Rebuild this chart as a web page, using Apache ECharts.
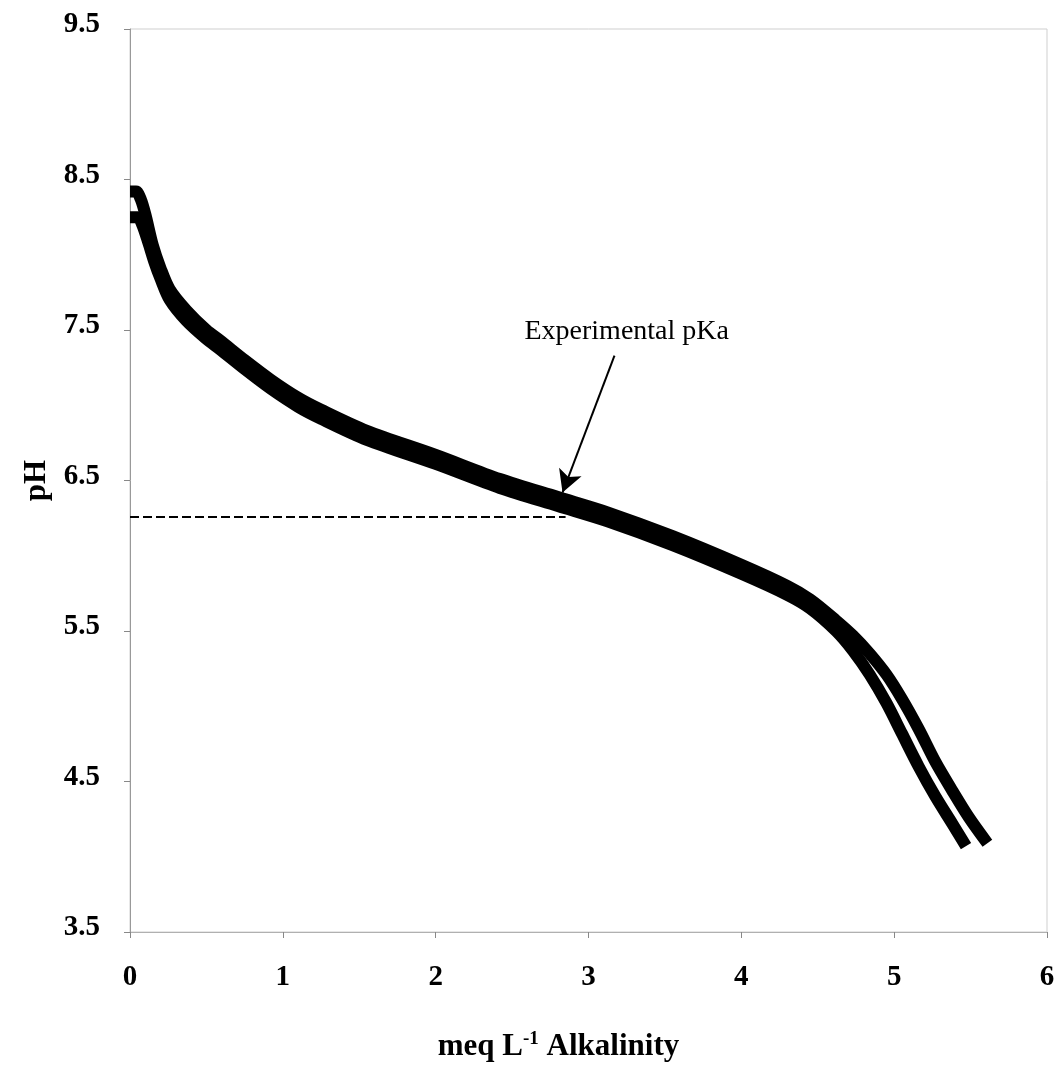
<!DOCTYPE html>
<html>
<head>
<meta charset="utf-8">
<title>Titration curve</title>
<script src="https://cdn.jsdelivr.net/npm/echarts@6/dist/echarts.min.js"></script>
<style>
  html, body { margin: 0; padding: 0; background: #fff; }
  #chart { width: 1060px; height: 1065px; }
</style>
</head>
<body>
<div id="chart"></div>
<script>
// Titration run 1: alkalinity added (meq/L) and measured pH
const runA = [
  [0.00, 8.42], [0.04, 8.42], [0.07, 8.37], [0.10, 8.27], [0.15, 8.06],
  [0.20, 7.91], [0.26, 7.77], [0.37, 7.63], [0.50, 7.50], [0.59, 7.43],
  [0.75, 7.30], [0.92, 7.17], [1.10, 7.05], [1.25, 6.97], [1.55, 6.83],
  [2.00, 6.67], [2.42, 6.51], [2.80, 6.39], [3.12, 6.29], [3.55, 6.13],
  [4.00, 5.94], [4.30, 5.80], [4.45, 5.71], [4.62, 5.57], [4.73, 5.47],
  [4.84, 5.35], [4.95, 5.21], [5.05, 5.05], [5.16, 4.85], [5.27, 4.63],
  [5.38, 4.44], [5.49, 4.26], [5.61, 4.09]
];

// Titration run 2
const runB = [
  [0.00, 8.25], [0.05, 8.25], [0.08, 8.20], [0.12, 8.08], [0.16, 7.95],
  [0.20, 7.84], [0.26, 7.70], [0.37, 7.56], [0.50, 7.44], [0.59, 7.37],
  [0.75, 7.24], [0.92, 7.11], [1.10, 6.99], [1.25, 6.91], [1.55, 6.77],
  [2.00, 6.61], [2.42, 6.45], [2.80, 6.33], [3.12, 6.23], [3.55, 6.07],
  [4.00, 5.88], [4.30, 5.74], [4.45, 5.65], [4.62, 5.50], [4.73, 5.37],
  [4.84, 5.21], [4.95, 5.02], [5.05, 4.82], [5.16, 4.60], [5.27, 4.40],
  [5.38, 4.22], [5.47, 4.07]
];

// Experimental pKa and where its reference line stops
const pKa = 6.26;
const pKaLineEnd = 2.85;

// Annotation: arrow from the label down to the curve
const arrowFrom = [3.17, 7.33];
const arrowTo = [2.83, 6.42];
const labelAt = [3.25, 7.49];
const labelText = 'Experimental pKa';

// Axis ticks
const xTicks = [0, 1, 2, 3, 4, 5, 6];
const yTicks = [3.5, 4.5, 5.5, 6.5, 7.5, 8.5, 9.5];

const serif = '"Liberation Serif", "DejaVu Serif", serif';

const chart = echarts.init(document.getElementById('chart'), null, { renderer: 'canvas' });

const curveStyle = { color: '#000', width: 12, cap: 'butt', join: 'round' };

chart.setOption({
  animation: false,
  backgroundColor: '#fff',
  grid: {
    left: 130, right: 13, top: 29, bottom: 133,
    show: true, borderColor: '#cfcfcf', borderWidth: 1,
    outerBoundsMode: 'none'
  },
  xAxis: {
    type: 'value',
    min: xTicks[0], max: xTicks[xTicks.length - 1], interval: 1,
    name: '{t|meq L}{s|-1}{t| Alkalinity}',
    nameLocation: 'middle', nameGap: 98,
    nameTextStyle: {
      padding: [0, 60, 0, 0],
      rich: {
        t: { fontFamily: serif, fontWeight: 'bold', fontSize: 31, color: '#000' },
        s: { fontFamily: serif, fontWeight: 'bold', fontSize: 19, color: '#000', verticalAlign: 'top', padding: [0, 0, 14, 0] }
      }
    },
    axisLine: { show: true, onZero: false, lineStyle: { color: '#b0b0b0', width: 1 } },
    axisTick: { show: true, length: 6, lineStyle: { color: '#888' } },
    axisLabel: {
      color: '#000', fontFamily: serif, fontWeight: 'bold', fontSize: 29, margin: 31
    },
    splitLine: { show: false }
  },
  yAxis: {
    type: 'value',
    min: yTicks[0], max: yTicks[yTicks.length - 1],
    name: 'pH',
    nameLocation: 'middle', nameGap: 78, nameRotate: 90,
    nameTextStyle: { fontFamily: serif, fontWeight: 'bold', fontSize: 31, color: '#000' },
    axisLine: { show: true, onZero: false, lineStyle: { color: '#999', width: 1 } },
    axisTick: { show: true, length: 6, customValues: yTicks, lineStyle: { color: '#888' } },
    axisLabel: {
      customValues: yTicks,
      formatter: v => '{v|' + v.toFixed(1) + '}',
      rich: {
        v: { fontFamily: serif, fontWeight: 'bold', fontSize: 29, color: '#000', padding: [0, 0, 8, 0] }
      },
      margin: 30
    },
    splitLine: { show: false }
  },
  series: [
    {
      name: 'Run 1', type: 'line', data: runA, showSymbol: false, smooth: 0.3,
      lineStyle: curveStyle, z: 3,
      markLine: {
        silent: true, symbol: ['none', 'arrow'], symbolSize: [18, 22],
        label: { show: false },
        lineStyle: { color: '#000', width: 2, type: 'solid' },
        data: [[{ coord: arrowFrom }, { coord: arrowTo }]]
      },
      markPoint: {
        silent: true, symbol: 'circle', symbolSize: 0,
        label: {
          show: true, formatter: labelText, position: 'inside',
          fontFamily: serif, fontSize: 28, color: '#000'
        },
        data: [{ coord: labelAt }]
      }
    },
    {
      name: 'Run 2', type: 'line', data: runB, showSymbol: false, smooth: 0.3,
      lineStyle: curveStyle, z: 3,
      markLine: {
        silent: true, symbol: ['none', 'none'],
        label: { show: false },
        lineStyle: { color: '#000', width: 2, type: [9, 4] },
        data: [[{ coord: [xTicks[0], pKa] }, { coord: [pKaLineEnd, pKa] }]]
      }
    }
  ]
});
</script>
</body>
</html>
